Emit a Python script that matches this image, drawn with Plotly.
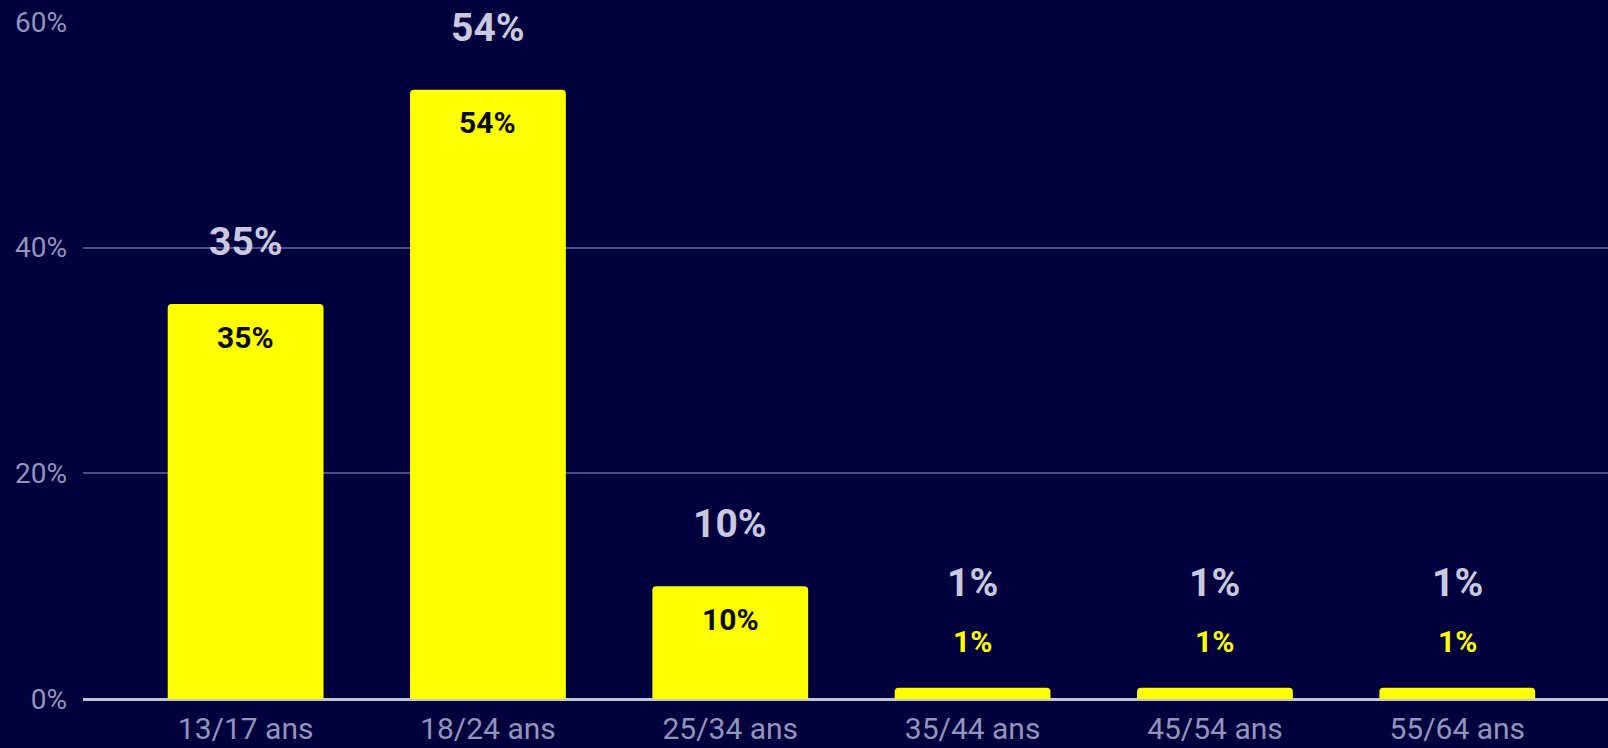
import plotly.graph_objects as go

categories = ["13/17 ans", "18/24 ans", "25/34 ans", "35/44 ans", "45/54 ans", "55/64 ans"]
values = [35, 54, 10, 1, 1, 1]
value_labels = ["35%", "54%", "10%", "1%", "1%", "1%"]
y_ticks = [0, 20, 40, 60]
y_tick_labels = ["0%", "20%", "40%", "60%"]

BG = "#01013d"
YELLOW = "#ffff00"
LABEL_LIGHT = "#c9c9e2"
TICK_COL = "#9394bd"
GRID_COL = "#4b4d85"
FONT = "Roboto"

fig = go.Figure()
fig.add_trace(go.Bar(
    x=categories, y=values,
    marker=dict(color=YELLOW, line=dict(width=0), cornerradius=4),
    width=0.643,
    hoverinfo="skip",
))

annotations = []
for c, v, t in zip(categories, values, value_labels):
    small = v < 5
    annotations.append(dict(
        x=c, y=v, xref="x", yref="y", text=t, showarrow=False,
        yanchor="middle", yshift=105 if small else 62,
        font=dict(family=FONT, size=39, color=LABEL_LIGHT, weight="bold"),
    ))
    annotations.append(dict(
        x=c, y=v, xref="x", yref="y", text=t, showarrow=False,
        yanchor="middle", yshift=46 if small else -33,
        font=dict(family=FONT, size=30, color=YELLOW if small else "#0a0a10", weight="bold"),
    ))

fig.update_layout(
    width=1608, height=748,
    margin=dict(l=83, r=0, t=22, b=49, autoexpand=False),
    paper_bgcolor=BG, plot_bgcolor=BG,
    showlegend=False,
    annotations=annotations,
    font=dict(family=FONT),
    xaxis=dict(
        type="category", range=[-0.671, 5.622], automargin=False,
        showgrid=False, zeroline=False, showline=False, ticks="",
        tickfont=dict(family=FONT, size=30, color=TICK_COL),
        ticklabelstandoff=9,
    ),
    yaxis=dict(
        range=[0, 60], tickvals=y_ticks, ticktext=y_tick_labels, automargin=False,
        showgrid=True, gridcolor=GRID_COL, gridwidth=2,
        zeroline=True, zerolinecolor="#c4c4dc", zerolinewidth=3,
        showline=False, ticks="",
        tickfont=dict(family=FONT, size=28, color=TICK_COL),
        ticklabelstandoff=15,
    ),
)

fig.write_html(
    "out.html",
    config={"displayModeBar": False},
    post_script="document.body.style.margin='0';document.body.style.overflow='hidden';document.body.style.background='" + BG + "';",
)
